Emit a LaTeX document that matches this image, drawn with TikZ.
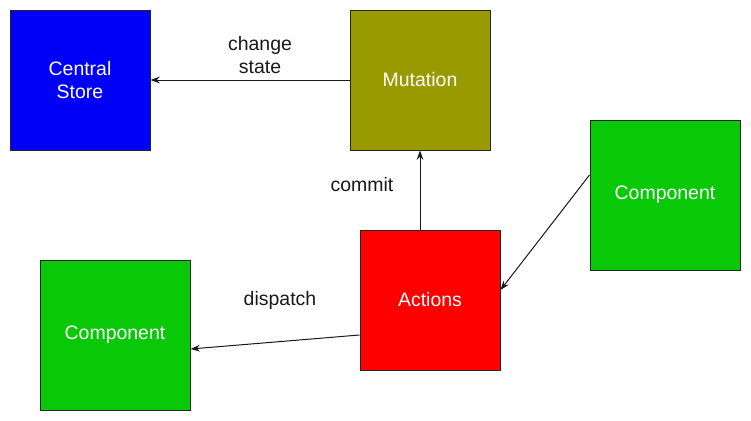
\documentclass[tikz,border=0pt]{standalone}
\usepackage{fontspec}
\setmainfont{Liberation Sans}
\usetikzlibrary{arrows.meta}

\definecolor{storeblue}{RGB}{0,0,250}
\definecolor{mutolive}{RGB}{153,153,0}
\definecolor{actred}{RGB}{255,0,0}
\definecolor{compgreen}{RGB}{8,200,8}

\tikzset{
  box/.style={draw=black!85, line width=0.75pt, rectangle, text=white,
    font=\fontsize{14.6}{17}\selectfont, align=center,
    minimum width=105pt, minimum height=105pt, inner sep=0pt},
  bigbox/.style={box, minimum width=112.5pt, minimum height=112.5pt},
  flow/.style={-{Stealth[length=7pt,width=5pt]}, line width=0.75pt, black!90},
  lbl/.style={font=\fontsize{14.6}{17}\selectfont, align=center, text=black!90}
}

\begin{document}
\begin{tikzpicture}[x=0.75pt, y=-0.75pt]
    \useasboundingbox (0,0) rectangle (751,421);

    % boxes
    \node[box, fill=storeblue] (store) at (80,80) {Central\\Store};
    \node[box, fill=mutolive] (mutation) at (420,80) {Mutation};
    \node[box, fill=actred] (actions) at (430,300) {Actions};
    \node[bigbox, fill=compgreen] (compR) at (665,195) {Component};
    \node[bigbox, fill=compgreen] (compL) at (115,335) {Component};

    % change state
    \draw[flow] (mutation.west) -- (store.east);
    \node[lbl] (changelbl) at (260,55) {change\\state};

    % commit
    \draw[flow] ([xshift=-7.5pt]actions.north) -- (mutation.south);
    \node[lbl] (commitlbl) at (362,185) {commit};

    % component to actions
    \draw[flow] ([yshift=15pt]compR.west) -- ([yshift=7.5pt]actions.east);

    % dispatch
    \draw[flow] ([yshift=-26.25pt]actions.west) -- ([yshift=-10.5pt]compL.east);
    \node[lbl] (dispatchlbl) at (280,300) {dispatch};

\end{tikzpicture}
\end{document}
